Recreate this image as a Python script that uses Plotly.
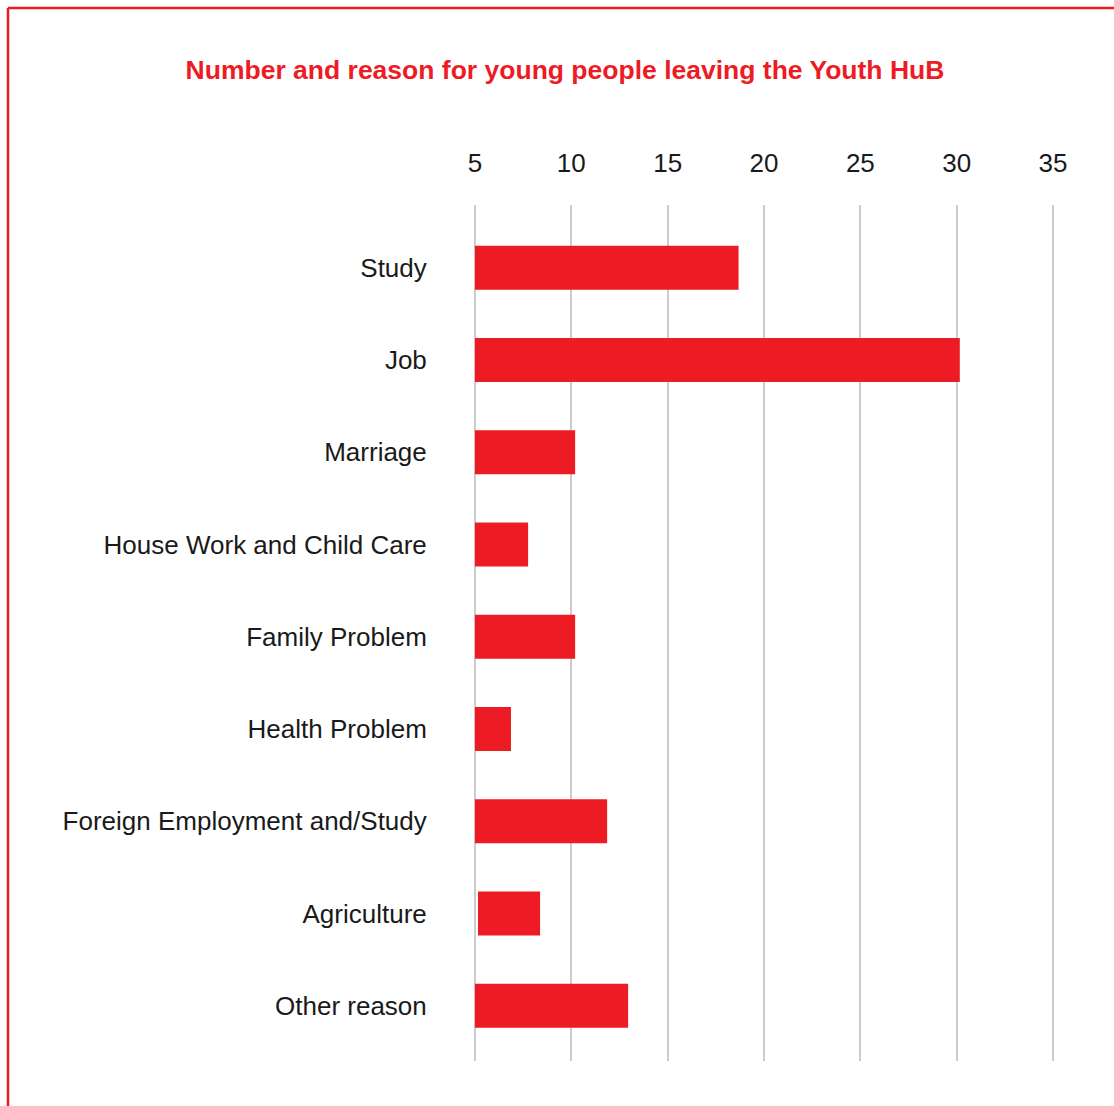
import plotly.graph_objects as go

categories = ["Study", "Job", "Marriage", "House Work and Child Care", "Family Problem",
              "Health Problem", "Foreign Employment and/Study", "Agriculture", "Other reason"]
bar_start = [5, 5, 5, 5, 5, 5, 5, 5.16, 5]
bar_end = [18.68, 30.16, 10.2, 7.76, 10.2, 6.87, 11.86, 8.38, 12.95]
tick_vals = [5, 10, 15, 20, 25, 30, 35]

RED = "#ED1C24"
W, H = 1114, 1106
ML, MR, MT, MB = 473, 59, 205, 45

fig = go.Figure(go.Bar(
    y=categories,
    x=[e - s for s, e in zip(bar_start, bar_end)],
    base=bar_start,
    orientation="h",
    marker=dict(color=RED, line=dict(width=0)),
    width=0.477,
))

pw = W - ML - MR
ph = H - MT - MB
def px_x(p):
    return (p - ML) / pw
def px_y(p):
    return 1 - (p - MT) / ph

fig.update_layout(
    width=W, height=H,
    margin=dict(l=ML, r=MR, t=MT, b=MB),
    paper_bgcolor="white", plot_bgcolor="white",
    showlegend=False,
    title=dict(text="<b>Number and reason for young people leaving the Youth HuB</b>",
               x=px_x(565), xref="paper", xanchor="center",
               y=1 - 70 / H, yref="container", yanchor="middle",
               font=dict(family="Liberation Sans, Arial, sans-serif", size=26.5, color=RED)),
    font=dict(family="Liberation Sans, Arial, sans-serif", color="#1a1a1a"),
    xaxis=dict(side="top", range=[4.9, 35.1], tickvals=tick_vals, showgrid=True,
               gridcolor="#cccccc", gridwidth=1.5, zeroline=False, showline=False,
               tickfont=dict(size=26), ticks="outside", ticklen=22, tickcolor="white"),
    yaxis=dict(range=[8.6, -0.68], showgrid=False, zeroline=False, showline=False,
               tickfont=dict(size=26), ticks="outside", ticklen=40, tickcolor="white"),
    shapes=[
        dict(type="line", xref="paper", yref="paper", x0=px_x(8), x1=px_x(W + 5),
             y0=px_y(8), y1=px_y(8), line=dict(color=RED, width=2.5)),
        dict(type="line", xref="paper", yref="paper", x0=px_x(8), x1=px_x(8),
             y0=px_y(8), y1=px_y(H + 5), line=dict(color=RED, width=2.5)),
    ],
)

fig.write_html("out.html")
